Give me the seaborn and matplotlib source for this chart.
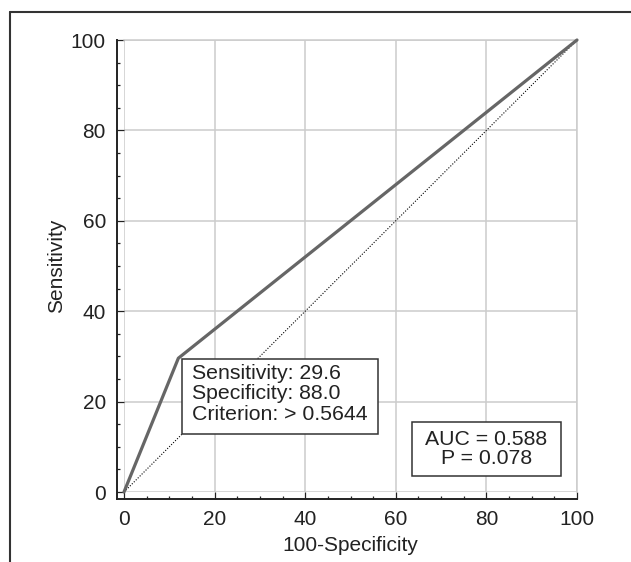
import matplotlib
matplotlib.use('Agg')
import numpy as np
import pandas as pd
import matplotlib.pyplot as plt
import seaborn as sns
from matplotlib.lines import Line2D
from matplotlib.patches import Rectangle
from matplotlib.transforms import IdentityTransform
from matplotlib.ticker import MultipleLocator

# ROC points
fpr = [0, 12.0, 100]      # 100-Specificity
tpr = [0, 29.6, 100]      # Sensitivity
chance = [0, 100]

cut_text = 'Sensitivity: 29.6\nSpecificity: 88.0\nCriterion: > 0.5644'
auc_text = 'AUC = 0.588\nP = 0.078'
ticks = [0, 20, 40, 60, 80, 100]

sns.set_theme(style='white')
plt.rcParams['font.family'] = ['Liberation Sans', 'DejaVu Sans']

W, H = 631, 562
fig = plt.figure(figsize=(W / 100, H / 100), dpi=100)
ax = fig.add_axes([124 / W, 70 / H, 453 / W, 452 / H])

roc = pd.DataFrame({'fpr': fpr, 'tpr': tpr})
sns.lineplot(data=roc, x='fpr', y='tpr', color='#666666', lw=2.3, ax=ax,
             sort=False, estimator=None, clip_on=False, zorder=4)
ax.plot(chance, chance, color='black', lw=0.8, ls=(0, (1, 1.5)), zorder=3)

ax.set_xlim(0, 100)
ax.set_ylim(0, 100)
ax.set_xticks(ticks)
ax.set_yticks(ticks)
ax.xaxis.set_minor_locator(MultipleLocator(5))
ax.yaxis.set_minor_locator(MultipleLocator(5))
ax.grid(True, which='major', color='#cccccc', lw=1.1)
ax.set_axisbelow(True)

# offset L-shaped axes
for s in ['left', 'bottom']:
    ax.spines[s].set_position(('outward', 5))
    ax.spines[s].set_color('#222222')
    ax.spines[s].set_linewidth(1.4)
    ax.spines[s].set_bounds(-1.55, 100)
for s in ['top', 'right']:
    ax.spines[s].set_color('#cccccc')
    ax.spines[s].set_linewidth(1.1)

ax.tick_params(which='major', direction='in', length=5, width=0.9, color='#222222',
               labelsize=15, labelcolor='#222222', pad=8)
ax.tick_params(which='minor', direction='in', length=2.5, width=0.9, color='#222222')
ax.tick_params(left=True, bottom=True, which='both')

ax.set_xlabel('100-Specificity', fontsize=15, color='#222222')
ax.set_ylabel('Sensitivity', fontsize=15, color='#222222')
ax.xaxis.set_label_coords(0.5, -0.097)
ax.yaxis.set_label_coords(-0.128, 0.5)

t1 = ax.annotate(cut_text, xy=(fpr[1], tpr[1]), xytext=(14, -6), textcoords='offset pixels',
                 ha='left', va='top', fontsize=15.3, color='#222222', linespacing=1.08,
                 zorder=5)
t2 = ax.text(80, 9.5, auc_text, ha='center', va='center', fontsize=15.3, color='#222222',
             multialignment='center', linespacing=1.05, zorder=5)

# framed boxes: (left/right, top, bottom) padding in pixels
fig.canvas.draw()
renderer = fig.canvas.get_renderer()
for t, padx, ptop, pbot in [(t1, 10, 5, 10), (t2, 13.5, 7.5, 7.5)]:
    bb = t.get_window_extent(renderer)
    ax.add_patch(Rectangle((bb.x0 - padx, bb.y0 - pbot), bb.width + 2 * padx,
                           bb.height + ptop + pbot, transform=IdentityTransform(),
                           fc='white', ec='#333333', lw=1.1, zorder=4.5, clip_on=False))

# outer frame (left and top edges visible)
fig.add_artist(Line2D([10 / W, 10 / W], [0, 1 - 12 / H], transform=fig.transFigure,
                      color='#333333', lw=1.5))
fig.add_artist(Line2D([10 / W, 1], [1 - 12 / H, 1 - 12 / H], transform=fig.transFigure,
                      color='#333333', lw=1.5))

fig.savefig('out.png', dpi=100)
